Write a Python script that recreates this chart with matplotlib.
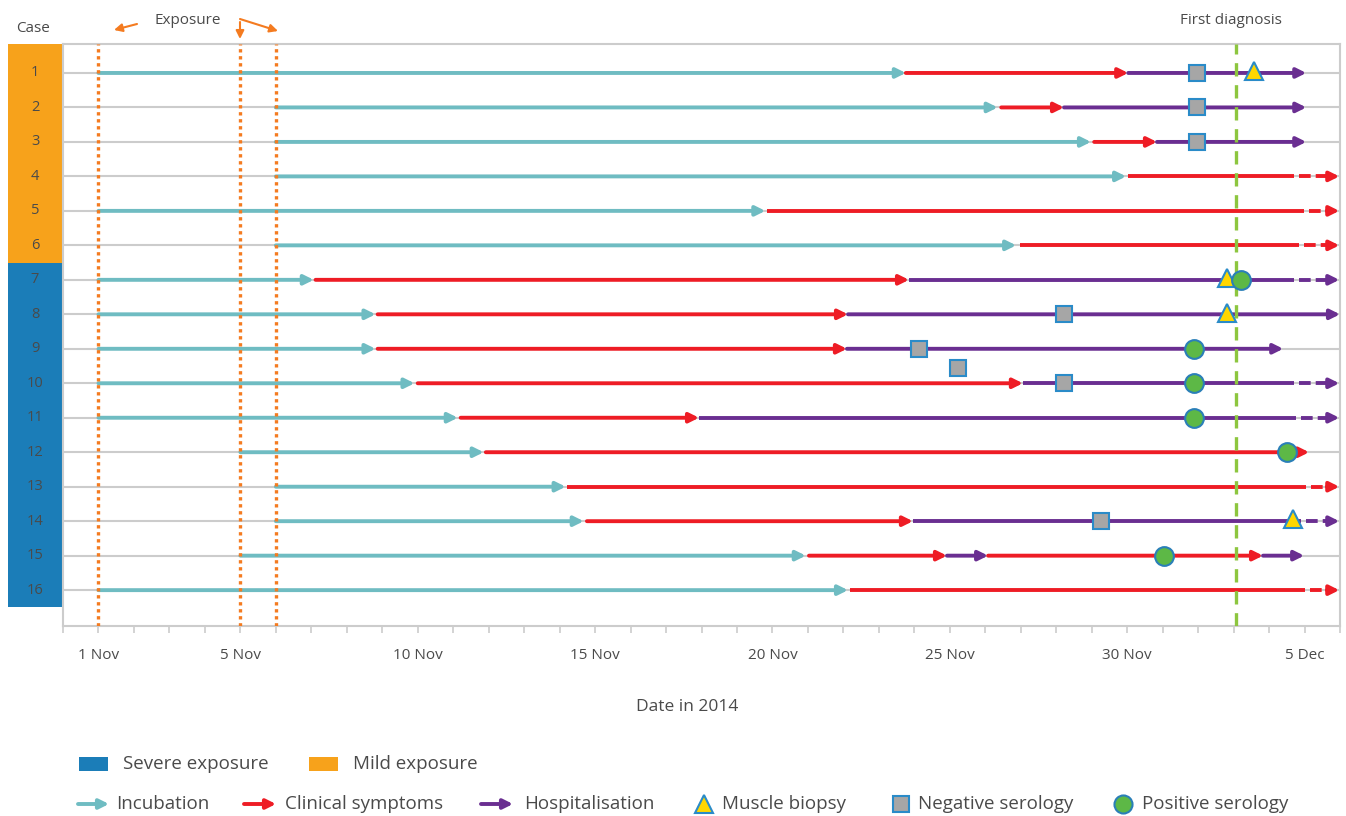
import matplotlib
matplotlib.use("Agg")
import matplotlib.pyplot as plt
from matplotlib.patches import Rectangle, FancyArrowPatch
from matplotlib.lines import Line2D

plt.rcParams['font.family'] = ['Open Sans', 'DejaVu Sans']

# ---------------- data ----------------
cases = list(range(1, 17))
exposure_level = ['Mild'] * 6 + ['Severe'] * 10

# incubation (start, end) per case, in days (1 = 1 Nov 2014)
incubation = [(1, 23.76), (6, 26.35), (6, 28.98), (6, 29.97), (1, 19.80), (6, 26.87),
              (1, 7.07), (1, 8.81), (1, 8.81), (1, 9.91), (1, 11.13), (5, 11.86),
              (6, 14.17), (6, 14.68), (5, 20.94), (1, 22.13)]

clinical = [[(23.76, 30.03)], [(26.45, 28.22)], [(29.07, 30.84)], [(30.03, 34.70)],
            [(19.85, 34.99)], [(26.97, 34.85)], [(7.12, 23.85)], [(8.87, 22.13)],
            [(8.87, 22.10)], [(10.00, 27.06)], [(11.21, 17.93)], [(11.92, 35.13)],
            [(14.22, 35.05)], [(14.77, 23.96)], [(21.03, 24.92), (26.08, 33.83)],
            [(22.19, 35.02)]]

hospitalisation = [[(30.03, 35.05)], [(28.22, 35.05)], [(30.84, 35.05)], [],
                   [], [], [(23.85, 34.70)], [(22.13, 36.0)],
                   [(22.10, 34.40)], [(27.06, 34.70)], [(17.93, 34.77)], [],
                   [], [(23.96, 34.90)], [(24.92, 26.08), (33.83, 34.99)], []]

# ongoing at time of report: dashed continuation from this day (None = no)
ongoing_from = [None, None, None, 34.70, 34.99, 34.85, 34.70, None,
                None, 34.70, 34.77, None, 35.05, 34.90, None, 35.02]
ongoing_to = 35.98

biopsy_case = [1, 7, 8, 14]
biopsy_day = [33.58, 32.82, 32.82, 34.68]
neg_case = [1, 2, 3, 8, 9, 9.55, 10, 14]
neg_day = [31.97, 31.97, 31.97, 28.22, 24.13, 25.23, 28.22, 29.27]
pos_case = [7, 9, 10, 11, 12, 15]
pos_day = [33.20, 31.89, 31.89, 31.89, 34.51, 31.04]

exposure_days = [1, 5, 6]
first_diagnosis_day = 33.07

tick_days = [1, 5, 10, 15, 20, 25, 30, 35]
tick_labels = ['1 Nov', '5 Nov', '10 Nov', '15 Nov', '20 Nov', '25 Nov', '30 Nov', '5 Dec']

# ---------------- style ----------------
C_INC = '#6fbcc2'
C_CLIN = '#ee1c25'
C_HOSP = '#6a2e91'
C_BLUE = '#1b7db8'
C_ORANGE = '#f7a21b'
C_EXPO = '#f47b20'
C_GREEN = '#8dc63f'
C_TEXT = '#4a4a4a'
C_GRID = '#cccccc'
LW = 2.8
MS = 14

W, H = 1346, 816
fig = plt.figure(figsize=(W / 100, H / 100), dpi=100)
ax = fig.add_axes([63 / W, 1 - 626 / H, (1340 - 63) / W, (626 - 44) / H])
ax.set_xlim(0, 36)
ax.set_ylim(17.04, 0.16)

for s in ax.spines.values():
    s.set_color(C_GRID)
    s.set_linewidth(1.5)

ax.set_yticks(cases)
ax.tick_params(axis='y', left=False, labelleft=False)
ax.yaxis.grid(True, color=C_GRID, lw=1.5, zorder=0)
ax.set_axisbelow(True)

ax.set_xticks(tick_days)
ax.set_xticklabels(tick_labels)
ax.set_xticks(range(0, 37), minor=True)
ax.tick_params(axis='x', which='both', length=5, width=1.2, color=C_GRID,
               labelsize=11, labelcolor=C_TEXT, pad=11)
ax.set_xlabel('Date in 2014', fontsize=12.5, color=C_TEXT)
ax.xaxis.set_label_coords((687 - 63) / (1340 - 63), -(707 - 626) / (626 - 44))
ax.xaxis.label.set_va('center')


def arrow(x0, x1, y, color, head=True):
    if head:
        ax.annotate('', xy=(x1, y), xytext=(x0, y), annotation_clip=False,
                    arrowprops=dict(arrowstyle='-|>', color=color, lw=LW,
                                    mutation_scale=MS, shrinkA=0, shrinkB=0),
                    zorder=3)
    else:
        ax.plot([x0, x1], [y, y], color=color, lw=LW, solid_capstyle='butt', zorder=3)


for i, c in enumerate(cases):
    s, e = incubation[i]
    arrow(s, e, c, C_INC)
    segs = [(a, b, C_CLIN) for a, b in clinical[i]] + [(a, b, C_HOSP) for a, b in hospitalisation[i]]
    segs.sort()
    for k, (a, b, col) in enumerate(segs):
        last = (k == len(segs) - 1)
        if last and ongoing_from[i] is not None:
            arrow(a, b, c, col, head=False)
            ax.plot([b + 0.14, ongoing_to - 0.3], [c, c], color=col, lw=LW,
                    ls=(0, (3.0, 1.3)), solid_capstyle='butt', dash_capstyle='butt',
                    zorder=3, clip_on=False)
            arrow(ongoing_to - 0.35, ongoing_to, c, col)
        else:
            arrow(a, b, c, col)

for d in exposure_days:
    ax.axvline(d, color=C_EXPO, lw=2.4, ls=(0, (1, 1.1)), zorder=4)
ax.axvline(first_diagnosis_day, color=C_GREEN, lw=2.4, ls=(0, (4, 2.6)), zorder=4)

ax.plot(neg_day, neg_case, ls='none', marker='s', ms=12, mfc='#a6a6a6', mec='#2a8bc8',
        mew=1.5, zorder=5, clip_on=False)
ax.plot(biopsy_day, [c - 0.05 for c in biopsy_case], ls='none', marker='^', ms=12.5,
        mfc='#ffd700', mec='#2a8bc8', mew=1.5, zorder=6, clip_on=False)
ax.plot(pos_day, pos_case, ls='none', marker='o', ms=13.5, mfc='#5db846', mec='#2a7fb8',
        mew=1.5, zorder=7, clip_on=False)

# case column
tr = ax.get_yaxis_transform()
x0 = (8 - 63) / (1340 - 63)
wbox = (62 - 8) / (1340 - 63)
n_mild = exposure_level.count('Mild')
ax.add_patch(Rectangle((x0, 0.16), wbox, n_mild + 0.5 - 0.16, transform=tr,
                       color=C_ORANGE, clip_on=False, lw=0))
ax.add_patch(Rectangle((x0, n_mild + 0.5), wbox, len(cases) - n_mild, transform=tr,
                       color=C_BLUE, clip_on=False, lw=0))
for c in cases:
    ax.text(x0 + wbox / 2, c, str(c), transform=tr, ha='center', va='center',
            fontsize=10.5, color=C_TEXT)


def fx(x):
    return x / W


def fy(y):
    return 1 - y / H


fig.text(fx(33), fy(29), 'Case', ha='center', va='center', fontsize=11, color=C_TEXT)
fig.text(fx(188), fy(20), 'Exposure', ha='center', va='center', fontsize=11, color=C_TEXT)
fig.text(fx(1231), fy(20), 'First diagnosis', ha='center', va='center', fontsize=11, color=C_TEXT)

for (a, b) in [((137, 24), (114, 30)), ((240, 22), (240, 39)), ((240, 19), (278, 31))]:
    fig.add_artist(FancyArrowPatch((fx(a[0]), fy(a[1])), (fx(b[0]), fy(b[1])),
                                   transform=fig.transFigure, arrowstyle='-|>',
                                   mutation_scale=12, lw=1.5, color=C_EXPO,
                                   shrinkA=0, shrinkB=0))

# legend
fig.add_artist(Rectangle((fx(79), fy(771)), fx(29), 14 / H, transform=fig.transFigure,
                         color=C_BLUE, lw=0))
fig.text(fx(123), fy(764), 'Severe exposure', va='center', fontsize=13.5, color=C_TEXT)
fig.add_artist(Rectangle((fx(309), fy(771)), fx(29), 14 / H, transform=fig.transFigure,
                         color=C_ORANGE, lw=0))
fig.text(fx(353), fy(764), 'Mild exposure', va='center', fontsize=13.5, color=C_TEXT)

ly = 804
for xa, xb, col, xt, lab in [(78, 109, C_INC, 116, 'Incubation'),
                             (244, 276, C_CLIN, 285, 'Clinical symptoms'),
                             (481, 513, C_HOSP, 524, 'Hospitalisation')]:
    fig.add_artist(FancyArrowPatch((fx(xa), fy(ly)), (fx(xb), fy(ly)),
                                   transform=fig.transFigure, arrowstyle='-|>',
                                   mutation_scale=MS, lw=LW, color=col,
                                   shrinkA=0, shrinkB=0))
    fig.text(fx(xt), fy(ly), lab, va='center', fontsize=13.5, color=C_TEXT)

for xm, mk, fc, ec, ms, xt, lab in [(704, '^', '#ffd700', '#2a8bc8', 12.5, 722, 'Muscle biopsy'),
                                    (901, 's', '#a6a6a6', '#2a8bc8', 11.5, 918, 'Negative serology'),
                                    (1123, 'o', '#5db846', '#2a7fb8', 13, 1142, 'Positive serology')]:
    fig.add_artist(Line2D([fx(xm)], [fy(ly)], transform=fig.transFigure, marker=mk, ms=ms,
                          mfc=fc, mec=ec, mew=1.5, ls='none'))
    fig.text(fx(xt), fy(ly), lab, va='center', fontsize=13.5, color=C_TEXT)

fig.savefig('out.png', dpi=100)
